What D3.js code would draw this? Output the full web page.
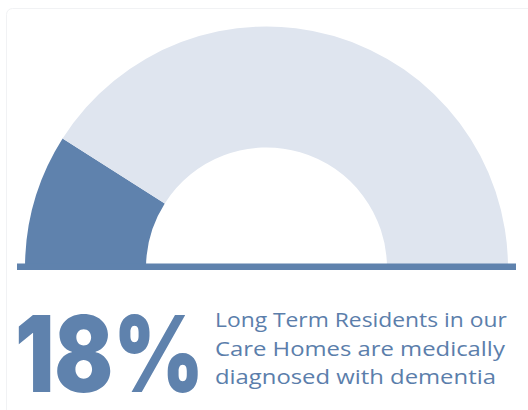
<!DOCTYPE html>
<html>
<head>
<meta charset="utf-8">
<script src="https://cdn.jsdelivr.net/npm/d3@7"></script>
<style>
html,body{margin:0;padding:0;background:#fff;}
svg{display:block;}
</style>
</head>
<body>
<svg id="chart" width="528" height="410"></svg>
<script>
const categories = ["Diagnosed with dementia", "Other residents"];
const values = [18, 82];
const valueLabel = "18%";
const captionLines = ["Long Term Residents in our", "Care Homes are medically", "diagnosed with dementia"];

const colors = d3.scaleOrdinal().domain(categories).range(["#5f82ad", "#dfe5ef"]);
const textColor = "#5b7eab";

const svg = d3.select("#chart");

// card
svg.append("rect")
  .attr("x", 6.5).attr("y", 8.5).attr("width", 540).attr("height", 420)
  .attr("rx", 6)
  .attr("fill", "#fff").attr("stroke", "#f1f2f4");

const cx = 266.5, cy = 268, outerR = 241.5, innerR = 120.5;

const pie = d3.pie().sort(null).value(d => d.v)
  .startAngle(-Math.PI / 2).endAngle(Math.PI / 2);
const arc = d3.arc().innerRadius(innerR).outerRadius(outerR);

const data = categories.map((c, i) => ({ c, v: values[i] }));

svg.append("g")
  .attr("transform", `translate(${cx},${cy})`)
  .selectAll("path")
  .data(pie(data))
  .join("path")
  .attr("d", arc)
  .attr("fill", d => colors(d.data.c));

// baseline
svg.append("rect")
  .attr("x", 17).attr("y", 263.5).attr("width", 499).attr("height", 6.5)
  .attr("fill", "#5f82ad");

// fit a text element horizontally to a target width via transform
function fitText(sel, x, y, targetW) {
  const w = sel.node().getComputedTextLength();
  const k = targetW / w;
  sel.attr("x", 0).attr("y", 0)
    .attr("transform", `translate(${x},${y}) scale(${k},1)`);
}

// big percentage
const big = svg.append("text")
  .attr("font-family", "Inter, 'Noto Sans', sans-serif")
  .attr("font-weight", 900)
  .attr("font-size", 106)
  .attr("fill", "#5f82ad")
  .text(valueLabel);
fitText(big, 15, 392, 189);

const widths = [292, 290, 281];
svg.append("g").selectAll("text")
  .data(captionLines)
  .join("text")
  .attr("font-family", "'Open Sans', 'Noto Sans', sans-serif")
  .attr("font-size", 20)
  .attr("fill", textColor)
  .text(d => d)
  .each(function(d, i) {
    fitText(d3.select(this), 215, 327 + i * 28.5, widths[i]);
  });
</script>
</body>
</html>
